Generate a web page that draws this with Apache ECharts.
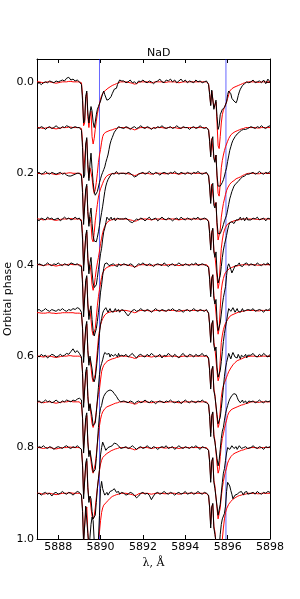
<!DOCTYPE html>
<html><head><meta charset="utf-8">
<script src="https://cdn.jsdelivr.net/npm/echarts@6/dist/echarts.min.js"></script>
<style>html,body{margin:0;padding:0;background:#fff}#c{width:300px;height:599px}</style>
</head><body><div id="c"></div>
<script>
// wavelength grid (Angstrom)
const wavelengths = [
5887.0,5887.1,5887.2,5887.3,5887.4,5887.5,5887.6,5887.7,5887.8,5887.9,5888.0,5888.1,5888.2,5888.3,5888.4,5888.5,5888.6,5888.7,5888.8,5888.9,5889.0,
5889.05,5889.1,5889.15,5889.2,5889.25,5889.3,5889.35,5889.4,5889.45,5889.5,5889.55,5889.6,5889.65,5889.7,5889.75,5889.8,5889.85,5889.9,5889.95,5890.0,
5890.05,5890.1,5890.15,5890.2,5890.25,5890.3,5890.35,5890.4,5890.45,5890.5,5890.55,5890.6,5890.65,5890.7,5890.75,5890.8,5890.85,5890.9,5890.95,5891.0,
5891.1,5891.2,5891.3,5891.4,5891.5,5891.6,5891.7,5891.8,5891.9,5892.0,5892.1,5892.2,5892.3,5892.4,5892.5,5892.6,5892.7,5892.8,5892.9,5893.0,
5893.1,5893.2,5893.3,5893.4,5893.5,5893.6,5893.7,5893.8,5893.9,5894.0,5894.1,5894.2,5894.3,5894.4,5894.5,5894.6,5894.7,5894.8,5894.9,5895.0,
5895.05,5895.1,5895.15,5895.2,5895.25,5895.3,5895.35,5895.4,5895.45,5895.5,5895.55,5895.6,5895.65,5895.7,5895.75,5895.8,5895.85,5895.9,5895.95,5896.0,
5896.05,5896.1,5896.15,5896.2,5896.25,5896.3,5896.35,5896.4,5896.45,5896.5,5896.55,5896.6,5896.65,5896.7,5896.75,5896.8,5896.85,5896.9,5896.95,5897.0,
5897.1,5897.2,5897.3,5897.4,5897.5,5897.6,5897.7,5897.8,5897.9,5898.0];

// orbital phase of each spectrum (vertical offset)
const phases = [0.0,0.1,0.2,0.3,0.4,0.5,0.6,0.7,0.8,0.9];

// Na D rest wavelengths (blue lines)
const naDLines = [5889.95, 5895.92];
const xTicks = [5888,5890,5892,5894,5896,5898];
const yTicks = [0.0,0.2,0.4,0.6,0.8,1.0];

// observed normalized flux (black)
const obs0 = [
0.98,0.99,0.97,0.99,1.00,0.99,1.01,1.00,0.99,1.01,1.00,1.01,1.02,1.01,1.04,1.05,1.02,1.03,1.01,1.02,1.00,
1.01,0.97,0.80,0.55,0.58,0.84,0.90,0.66,0.55,0.66,0.73,0.68,0.56,0.50,0.56,0.64,0.70,0.73,0.74,0.79,
0.78,0.87,0.90,0.86,0.84,0.80,0.79,0.81,0.80,0.84,0.87,0.89,0.92,0.94,0.93,0.97,0.99,1.02,1.00,1.01,
1.01,0.99,1.00,1.02,0.99,1.00,0.98,1.01,1.00,1.02,1.00,0.99,1.01,1.00,0.98,1.00,1.01,1.03,1.00,0.99,
1.02,1.01,1.03,1.00,1.02,0.99,1.01,1.03,1.00,1.02,0.99,1.01,1.00,0.99,1.02,1.00,1.01,0.99,1.00,1.01,
1.01,0.97,0.86,0.74,0.91,0.93,0.70,0.69,0.80,0.62,0.48,0.52,0.64,0.67,0.70,0.71,0.72,0.74,0.78,0.86,
0.90,0.92,0.87,0.82,0.80,0.79,0.78,0.77,0.80,0.85,0.89,0.92,0.94,0.96,0.97,0.98,0.99,1.00,1.02,0.99,
1.00,1.02,0.99,1.00,1.01,0.99,1.02,0.98,1.03,1.00];
const obs1 = [
1.00,0.99,1.01,1.00,0.98,1.00,1.01,0.99,1.00,1.02,1.00,0.99,1.01,1.00,1.02,1.01,0.99,1.00,1.01,1.00,1.00,
1.00,0.97,0.78,0.45,0.48,0.82,0.89,0.60,0.42,0.60,0.72,0.55,0.40,0.30,0.26,0.25,0.30,0.35,0.40,0.44,
0.48,0.51,0.54,0.57,0.62,0.66,0.70,0.76,0.82,0.86,0.89,0.92,0.95,0.97,0.98,0.99,1.01,0.99,1.00,1.01,
0.99,1.01,1.00,0.98,1.00,1.01,0.99,1.00,1.02,1.00,0.99,1.01,1.00,0.98,1.00,0.99,1.01,1.00,1.02,1.00,
0.99,1.00,1.01,0.99,1.00,1.02,1.00,0.99,1.01,1.00,1.00,0.98,1.00,1.01,0.99,1.00,1.02,1.00,0.99,1.00,
1.00,0.97,0.85,0.68,0.86,0.90,0.66,0.62,0.70,0.48,0.36,0.34,0.36,0.38,0.40,0.43,0.47,0.52,0.56,0.63,
0.69,0.75,0.79,0.83,0.86,0.88,0.90,0.92,0.93,0.94,0.95,0.96,0.97,0.975,0.98,0.99,0.98,1.00,0.99,1.01,
1.01,1.00,0.99,1.01,1.00,1.02,1.00,0.99,1.01,1.02];
const obs2 = [
1.00,1.01,0.99,1.00,1.02,1.00,0.99,1.01,1.00,0.99,1.00,1.01,0.99,1.00,0.98,0.97,0.97,0.98,0.99,1.00,1.00,
0.99,0.97,0.79,0.44,0.46,0.83,0.88,0.58,0.42,0.55,0.62,0.45,0.32,0.26,0.24,0.25,0.30,0.36,0.43,0.50,
0.57,0.64,0.72,0.80,0.86,0.90,0.93,0.95,0.97,0.98,1.00,1.01,0.99,1.00,1.02,1.00,0.99,1.01,1.00,0.98,
1.00,0.99,1.01,1.00,0.98,0.96,0.97,0.99,1.00,1.01,0.99,1.00,1.02,1.00,0.99,1.01,1.00,0.98,1.00,1.01,
1.00,0.99,1.01,1.00,1.02,1.00,0.99,1.01,1.00,0.99,1.01,1.00,0.99,1.01,1.00,1.02,1.00,0.99,1.00,1.01,
0.99,0.97,0.85,0.67,0.86,0.89,0.65,0.62,0.68,0.46,0.34,0.32,0.34,0.37,0.40,0.44,0.48,0.51,0.54,0.60,
0.66,0.72,0.76,0.80,0.83,0.86,0.88,0.89,0.90,0.91,0.93,0.94,0.95,0.96,0.97,0.97,0.98,0.99,1.00,0.99,
1.00,1.01,0.99,1.00,1.02,1.00,0.99,1.01,1.00,1.02];
const obs3 = [
1.00,0.98,1.01,1.00,0.99,1.02,1.00,1.01,0.99,1.00,1.01,0.98,1.00,1.02,1.00,1.01,0.99,1.00,1.02,1.00,1.01,
1.01,0.97,0.78,0.43,0.45,0.82,0.88,0.57,0.40,0.52,0.58,0.42,0.30,0.25,0.24,0.28,0.36,0.45,0.53,0.62,
0.68,0.78,0.86,0.90,0.96,1.02,1.01,0.99,1.00,1.02,0.99,1.00,1.01,0.98,1.00,1.01,0.99,1.00,1.02,1.00,
1.00,1.01,0.99,0.97,0.96,0.98,1.00,0.99,1.01,1.00,0.98,1.00,1.02,0.99,1.00,1.01,0.98,1.00,1.02,1.00,
0.99,1.01,1.00,0.98,1.00,1.01,0.99,1.02,1.00,0.99,1.01,1.00,0.99,1.01,1.00,1.02,0.99,1.00,1.01,1.00,
1.01,0.97,0.84,0.66,0.85,0.90,0.64,0.58,0.64,0.42,0.30,0.30,0.38,0.48,0.58,0.66,0.72,0.77,0.82,0.88,
0.93,0.96,0.98,0.97,0.96,0.95,0.97,0.99,1.01,0.99,1.00,1.02,0.99,1.00,1.01,0.98,1.00,1.02,0.99,1.00,
0.99,1.01,1.00,1.02,0.99,1.00,1.01,0.98,1.01,1.00];
const obs4 = [
0.99,1.01,1.00,0.99,1.00,1.02,1.00,0.99,1.01,1.00,1.02,1.00,0.99,1.01,1.00,0.99,1.02,1.01,1.00,1.01,0.99,
0.99,0.98,0.79,0.43,0.45,0.83,0.88,0.56,0.40,0.50,0.55,0.40,0.28,0.22,0.24,0.30,0.38,0.48,0.58,0.70,
0.78,0.88,0.96,1.01,1.03,1.02,1.03,0.99,1.01,1.00,0.98,1.01,1.02,0.99,1.00,0.98,1.01,1.00,0.99,1.01,
1.01,1.00,0.99,1.01,1.00,0.97,0.99,1.01,1.00,1.02,1.00,0.99,1.01,1.00,0.98,1.00,1.01,1.00,0.99,1.02,
1.00,0.98,1.00,1.01,0.99,1.00,1.02,1.00,0.99,1.01,1.00,0.99,1.01,1.00,1.02,0.99,1.00,1.01,1.00,0.99,
0.99,0.97,0.84,0.65,0.85,0.89,0.63,0.57,0.62,0.40,0.28,0.28,0.36,0.46,0.56,0.64,0.70,0.76,0.88,0.98,
1.01,1.00,0.95,0.91,0.92,0.96,0.99,1.01,0.99,1.00,1.02,0.99,1.01,0.98,1.00,1.01,0.99,1.02,1.00,0.99,
1.01,1.00,0.99,1.02,1.00,0.99,1.01,1.00,1.02,0.99];
const obs5 = [
1.00,1.01,0.99,1.00,1.02,1.00,0.99,1.01,1.00,0.99,1.01,1.00,1.02,1.00,0.99,1.01,1.00,1.02,1.01,1.03,1.02,
1.01,0.98,0.80,0.43,0.45,0.82,0.88,0.56,0.40,0.50,0.52,0.36,0.25,0.22,0.26,0.36,0.48,0.62,0.75,0.85,
0.91,0.97,1.00,1.02,1.03,1.01,0.98,1.00,1.02,0.99,1.01,0.98,1.00,1.02,0.99,1.00,1.01,0.98,1.00,1.01,
1.00,0.97,0.94,0.97,1.00,1.01,0.99,1.00,1.02,1.00,0.99,1.01,1.00,0.98,1.00,1.02,1.00,0.99,1.01,1.00,
0.99,1.01,1.00,1.02,1.00,0.99,1.01,1.00,0.98,1.00,1.01,0.99,1.00,1.02,1.00,0.99,1.01,1.00,0.99,1.01,
1.01,0.97,0.84,0.65,0.85,0.89,0.62,0.56,0.60,0.38,0.27,0.27,0.34,0.44,0.55,0.66,0.75,0.82,0.88,0.96,
1.02,1.01,0.99,1.00,1.03,1.01,0.98,1.00,1.02,0.99,1.01,0.98,1.00,1.02,0.99,1.01,1.00,0.98,1.01,1.00,
1.00,1.02,0.99,1.00,1.01,1.00,0.98,1.01,1.00,1.02];
const obs6 = [
1.01,0.99,1.02,1.00,1.01,0.98,1.00,1.02,1.01,0.99,1.00,1.02,1.00,1.01,1.03,1.02,1.05,1.08,1.04,1.06,1.03,
1.02,0.99,0.81,0.44,0.45,0.83,0.88,0.56,0.40,0.48,0.48,0.34,0.24,0.22,0.27,0.38,0.52,0.66,0.80,0.88,
0.92,0.96,1.01,1.04,1.05,1.02,1.00,1.03,0.99,1.02,1.04,1.00,0.98,1.02,1.01,0.99,1.03,1.00,0.98,1.01,
1.00,1.02,0.99,1.01,1.03,1.00,0.98,1.01,1.02,1.00,0.99,1.02,1.00,1.03,1.01,0.99,1.00,1.02,0.98,1.01,
1.00,1.03,1.01,0.99,1.02,1.00,0.98,1.01,1.03,1.00,0.99,1.02,1.01,0.99,1.02,1.00,1.01,1.03,1.00,1.01,
1.02,0.98,0.84,0.64,0.85,0.89,0.62,0.56,0.58,0.36,0.26,0.26,0.33,0.43,0.54,0.66,0.78,0.87,0.93,0.98,
1.03,1.00,0.97,1.01,1.04,1.03,0.99,1.01,0.98,1.02,1.00,0.97,1.01,1.03,0.99,1.00,1.02,0.98,1.01,1.00,
1.01,1.03,1.00,0.99,1.02,1.00,1.03,1.01,0.99,1.02];
const obs7 = [
1.00,1.01,0.99,1.00,1.02,1.00,1.01,0.99,1.00,1.02,1.00,0.99,1.01,1.00,1.02,1.01,1.00,1.02,1.01,1.03,1.04,
1.04,1.02,0.82,0.44,0.45,0.83,0.88,0.56,0.40,0.47,0.45,0.32,0.23,0.21,0.26,0.38,0.55,0.72,0.86,0.93,
0.96,1.02,1.06,1.08,1.10,1.11,1.12,1.13,1.13,1.12,1.12,1.11,1.09,1.08,1.06,1.04,1.02,1.01,1.00,1.01,
1.01,1.00,0.99,1.01,1.00,0.98,1.00,1.01,0.99,1.00,1.02,1.00,0.99,1.01,1.00,0.98,1.00,1.01,1.00,0.99,
1.01,1.00,1.02,1.00,0.99,1.00,1.01,0.98,1.00,1.02,1.00,0.99,1.01,1.00,0.99,1.01,1.00,1.02,1.00,0.99,
1.01,0.97,0.84,0.62,0.85,0.89,0.62,0.56,0.58,0.38,0.30,0.36,0.48,0.60,0.68,0.72,0.80,0.87,0.92,0.96,
1.00,1.03,1.05,1.07,1.08,1.09,1.08,1.08,1.05,1.02,1.01,0.99,1.00,1.02,0.99,1.00,1.01,0.98,1.00,1.01,
1.00,1.01,0.99,1.00,1.02,1.00,0.99,1.01,1.00,1.01];
const obs8 = [
0.99,1.01,1.00,1.02,1.00,0.99,1.01,1.00,0.98,1.00,1.01,1.00,0.99,1.01,1.02,1.00,0.99,1.01,1.00,1.02,1.00,
1.00,0.98,0.80,0.44,0.45,0.83,0.88,0.56,0.40,0.47,0.44,0.30,0.22,0.20,0.26,0.40,0.55,0.66,0.76,0.92,
1.00,1.06,1.04,1.00,0.97,0.98,1.00,0.99,1.01,1.00,1.02,1.04,1.05,1.05,1.04,1.05,1.02,1.00,0.99,1.01,
1.00,1.01,0.99,1.00,1.02,1.00,0.98,1.00,1.01,0.99,1.00,1.02,1.00,0.99,1.01,1.00,0.98,1.00,1.01,1.00,
1.02,0.99,1.00,1.01,0.98,1.00,1.02,1.00,0.99,1.01,1.00,0.99,1.01,1.00,1.02,1.00,0.98,1.01,1.00,0.99,
1.00,0.97,0.84,0.62,0.85,0.89,0.62,0.55,0.56,0.36,0.26,0.28,0.38,0.50,0.62,0.72,0.77,0.86,0.94,1.00,
1.01,0.98,1.00,1.02,1.01,0.99,1.00,1.01,0.98,1.00,1.02,1.00,0.99,1.01,1.00,0.98,1.01,1.02,0.99,1.00,
1.00,1.02,1.00,0.99,1.01,1.00,0.98,1.01,1.00,1.01];
const obs9 = [
0.99,1.00,0.98,1.00,1.01,0.99,1.00,0.97,1.00,1.01,0.99,1.00,1.02,1.00,0.99,1.01,1.00,0.98,1.00,1.02,1.01,
1.01,0.98,0.80,0.44,0.45,0.86,0.88,0.56,0.40,0.52,0.66,0.74,0.70,0.48,0.30,0.25,0.32,0.50,0.76,1.05,
1.13,1.05,1.01,0.98,0.99,1.01,0.98,0.99,1.02,1.00,1.03,1.04,1.05,1.03,1.01,1.00,1.02,0.99,1.00,1.01,
1.00,0.98,0.99,1.01,1.00,0.98,0.95,0.97,1.00,1.01,0.99,1.00,0.98,0.93,0.97,1.00,1.01,0.99,1.00,1.02,
1.00,0.99,1.01,1.00,0.98,1.00,1.01,0.99,1.00,1.02,0.99,1.00,1.01,0.99,1.00,1.02,1.00,0.99,1.01,1.00,
1.01,0.98,0.84,0.62,0.85,0.89,0.62,0.55,0.56,0.38,0.30,0.40,0.55,0.66,0.72,0.74,0.78,0.86,1.02,1.12,
1.10,1.08,1.03,0.99,0.94,0.95,0.98,0.97,0.99,1.00,1.01,0.99,1.02,1.00,0.98,1.01,1.00,1.02,0.99,1.01,
1.00,1.01,0.99,1.02,1.00,0.99,1.01,1.00,1.02,1.01];

// model normalized flux (red): continuum pieces shared, line regions per spectrum
const modelLeft = [1.00,1.00,0.995,0.99,0.995,1.00,1.00,0.995,0.99,0.985,0.99,0.995,1.00,1.00,1.00,1.005,1.005,1.00,1.00,1.00,1.00];
const modelLeftLow = [0.975,0.975,0.97,0.97,0.97,0.975,0.975,0.97,0.97,0.965,0.97,0.97,0.975,0.975,0.975,0.975,0.975,0.975,0.97,0.97,0.97];
const modelMid = [1.00,1.00,0.995,0.99,0.985,0.975,0.98,0.995,1.00,1.00,1.00,1.00,0.995,0.99,0.995,1.00,1.00,1.00,1.00,0.995,
0.995,1.00,1.00,1.00,1.00,0.995,0.99,0.995,1.00,1.00,1.00,1.00,1.00,1.00,1.00,1.00,1.00,1.00,1.00,1.00];
const modelRight = [1.00,1.00,1.00,0.995,0.995,1.00,1.00,1.00,1.00,1.00];

const mod0 = [...modelLeft,
1.00,0.99,0.85,0.52,0.55,0.82,0.88,0.62,0.50,0.62,0.68,0.40,0.32,0.38,0.48,0.57,0.65,0.71,0.76,0.81,
0.85,0.87,0.89,0.90,0.91,0.92,0.93,0.94,0.945,0.95,0.96,0.965,0.97,0.975,0.98,0.985,0.99,0.995,1.00,1.00,
...modelMid,
1.00,0.98,0.88,0.75,0.90,0.92,0.72,0.70,0.78,0.55,0.30,0.27,0.40,0.55,0.64,0.69,0.72,0.75,0.78,0.82,
0.86,0.90,0.915,0.925,0.93,0.94,0.945,0.95,0.955,0.96,0.965,0.97,0.975,0.98,0.985,0.99,0.99,0.995,1.00,1.00,
...modelRight];
const mod1 = [...modelLeft,
1.01,0.99,0.84,0.50,0.50,0.80,0.87,0.58,0.45,0.56,0.58,0.45,0.34,0.28,0.32,0.40,0.50,0.62,0.70,0.76,
0.84,0.90,0.93,0.94,0.95,0.955,0.96,0.965,0.97,0.97,0.975,0.98,0.985,0.99,0.99,0.995,1.00,1.00,1.00,1.00,
...modelMid,
1.00,0.98,0.86,0.70,0.88,0.90,0.68,0.64,0.70,0.45,0.28,0.25,0.38,0.56,0.64,0.70,0.75,0.79,0.82,0.85,
0.88,0.90,0.92,0.93,0.94,0.95,0.955,0.96,0.965,0.97,0.975,0.98,0.985,0.99,0.99,0.995,1.00,1.00,1.00,1.00,
...modelRight];
const mod2 = [...modelLeft,
1.00,0.99,0.84,0.50,0.50,0.80,0.86,0.58,0.45,0.52,0.45,0.28,0.25,0.35,0.48,0.57,0.66,0.74,0.79,0.83,
0.86,0.89,0.92,0.94,0.96,0.97,0.98,0.985,0.99,0.99,0.995,0.995,1.00,1.00,1.00,1.00,1.00,1.00,1.00,1.00,
...modelMid,
1.00,0.98,0.86,0.70,0.88,0.90,0.68,0.64,0.68,0.42,0.27,0.26,0.38,0.52,0.60,0.67,0.72,0.77,0.81,0.84,
0.86,0.88,0.895,0.905,0.91,0.92,0.93,0.94,0.945,0.95,0.955,0.96,0.97,0.975,0.98,0.985,0.99,0.995,1.00,1.00,
...modelRight];
const mod3 = [...modelLeft,
1.00,0.99,0.84,0.50,0.50,0.80,0.86,0.58,0.44,0.50,0.42,0.28,0.22,0.27,0.36,0.45,0.52,0.58,0.65,0.73,
0.79,0.85,0.89,0.92,0.94,0.96,0.97,0.98,0.985,0.99,0.99,0.995,0.995,1.00,1.00,1.00,1.00,1.00,1.00,1.00,
...modelMid,
1.00,0.98,0.86,0.68,0.86,0.89,0.66,0.60,0.62,0.36,0.24,0.30,0.50,0.68,0.77,0.84,0.88,0.91,0.93,0.945,
0.95,0.96,0.965,0.97,0.975,0.98,0.98,0.985,0.99,0.99,0.99,0.995,0.995,1.00,1.00,1.00,1.00,1.00,1.00,1.00,
...modelRight];
const mod4 = [...modelLeft,
1.00,0.99,0.84,0.50,0.50,0.80,0.86,0.58,0.44,0.50,0.40,0.28,0.23,0.22,0.30,0.42,0.55,0.65,0.73,0.80,
0.86,0.91,0.93,0.95,0.96,0.97,0.975,0.98,0.985,0.99,0.99,0.99,0.995,0.995,1.00,1.00,1.00,1.00,1.00,1.00,
...modelMid,
1.00,0.98,0.86,0.68,0.86,0.89,0.66,0.60,0.60,0.34,0.24,0.30,0.52,0.72,0.80,0.85,0.89,0.915,0.93,0.94,
0.95,0.96,0.965,0.97,0.975,0.98,0.98,0.985,0.99,0.99,0.99,0.995,0.995,1.00,1.00,1.00,1.00,1.00,1.00,1.00,
...modelRight];
const mod5 = [...modelLeftLow,
0.97,0.96,0.82,0.49,0.50,0.79,0.85,0.57,0.43,0.48,0.38,0.27,0.22,0.22,0.30,0.42,0.56,0.70,0.78,0.84,
0.88,0.91,0.93,0.95,0.96,0.97,0.975,0.98,0.98,0.985,0.985,0.99,0.99,0.99,0.995,0.995,1.00,1.00,1.00,1.00,
...modelMid,
0.99,0.97,0.85,0.67,0.85,0.88,0.65,0.59,0.58,0.33,0.23,0.27,0.45,0.65,0.73,0.79,0.83,0.86,0.88,0.90,
0.92,0.935,0.945,0.95,0.955,0.96,0.965,0.97,0.975,0.98,0.98,0.985,0.99,0.99,0.99,0.995,0.995,1.00,1.00,1.00,
...modelRight];
const mod6 = [...modelLeft,
0.99,0.98,0.83,0.49,0.50,0.79,0.85,0.57,0.43,0.47,0.36,0.26,0.22,0.23,0.30,0.40,0.50,0.58,0.64,0.74,
0.83,0.87,0.90,0.92,0.93,0.94,0.95,0.955,0.96,0.965,0.97,0.97,0.975,0.98,0.985,0.99,0.99,0.995,1.00,1.00,
...modelMid,
0.99,0.97,0.85,0.66,0.85,0.88,0.64,0.58,0.56,0.32,0.22,0.26,0.40,0.55,0.63,0.68,0.71,0.74,0.77,0.80,
0.83,0.85,0.87,0.89,0.905,0.92,0.93,0.94,0.95,0.955,0.96,0.965,0.97,0.975,0.98,0.985,0.99,0.99,0.995,1.00,
...modelRight];
const mod7 = [...modelLeft,
0.98,0.97,0.83,0.49,0.50,0.79,0.85,0.57,0.43,0.46,0.35,0.26,0.22,0.24,0.32,0.42,0.54,0.65,0.74,0.81,
0.86,0.89,0.91,0.925,0.935,0.945,0.95,0.955,0.96,0.965,0.97,0.975,0.98,0.985,0.99,0.99,0.995,1.00,1.00,1.00,
...modelMid,
0.99,0.97,0.85,0.66,0.85,0.88,0.64,0.58,0.56,0.32,0.22,0.26,0.40,0.52,0.60,0.65,0.71,0.76,0.80,0.85,
0.88,0.90,0.91,0.92,0.925,0.93,0.935,0.94,0.945,0.95,0.955,0.96,0.965,0.97,0.97,0.975,0.98,0.98,0.985,0.99,
...modelRight];
const mod8 = [...modelLeft,
0.99,0.98,0.83,0.49,0.50,0.79,0.85,0.57,0.43,0.46,0.34,0.25,0.22,0.25,0.34,0.45,0.56,0.65,0.75,0.82,
0.86,0.89,0.905,0.915,0.925,0.935,0.945,0.95,0.96,0.965,0.97,0.975,0.98,0.985,0.99,0.99,0.995,1.00,1.00,1.00,
...modelMid,
0.99,0.97,0.85,0.66,0.85,0.88,0.64,0.58,0.56,0.33,0.22,0.24,0.34,0.46,0.56,0.63,0.69,0.74,0.78,0.83,
0.86,0.88,0.90,0.915,0.925,0.935,0.94,0.945,0.95,0.955,0.96,0.965,0.97,0.97,0.975,0.98,0.985,0.99,0.99,0.995,
...modelRight];
const mod9 = [...modelLeft,
0.99,0.98,0.83,0.49,0.50,0.79,0.85,0.57,0.43,0.45,0.36,0.28,0.24,0.24,0.28,0.34,0.42,0.50,0.58,0.70,
0.79,0.84,0.87,0.885,0.895,0.91,0.92,0.935,0.945,0.955,0.965,0.97,0.975,0.98,0.985,0.99,0.99,0.995,1.00,1.00,
...modelMid,
0.99,0.97,0.85,0.66,0.85,0.88,0.64,0.58,0.56,0.34,0.23,0.22,0.28,0.38,0.50,0.62,0.72,0.79,0.83,0.85,
0.88,0.90,0.91,0.92,0.935,0.945,0.95,0.96,0.965,0.97,0.975,0.98,0.98,0.985,0.99,0.99,0.99,0.995,1.00,1.00,
...modelRight];

const obsSpectra = [obs0,obs1,obs2,obs3,obs4,obs5,obs6,obs7,obs8,obs9];
const modSpectra = [mod0,mod1,mod2,mod3,mod4,mod5,mod6,mod7,mod8,mod9];
const depthScale = 0.2;   // phase units per unit of flux depth
const yMin = -0.05, yMax = 1.0;

[...obsSpectra, ...modSpectra].forEach((a, i) => {
  if (a.length !== wavelengths.length) throw new Error('length mismatch in spectrum ' + i + ': ' + a.length);
});

function toPoints(flux, phase) {
  return wavelengths.map((w, i) => [w, phase + (1 - flux[i]) * depthScale]);
}

const series = [];
naDLines.forEach(w => series.push({
  type: 'line', data: [[w, yMin], [w, yMax]], showSymbol: false, silent: true, z: 1,
  lineStyle: { color: 'rgba(0,0,255,0.6)', width: 1 }
}));
phases.forEach((p, k) => {
  series.push({ type: 'line', data: toPoints(modSpectra[k], p), showSymbol: false, z: 2,
    lineStyle: { color: '#ff0000', width: 1 } });
  series.push({ type: 'line', data: toPoints(obsSpectra[k], p), showSymbol: false, z: 3,
    lineStyle: { color: '#000000', width: 1 } });
});

const axisLine = { show: true, onZero: false, lineStyle: { color: '#000', width: 1 } };
const labelFont = { fontSize: 11, color: '#000', fontFamily: 'DejaVu Sans' };

const chart = echarts.init(document.getElementById('c'), null, { renderer: 'canvas' });
chart.setOption({
  animation: false,
  backgroundColor: '#fff',
  title: { text: 'NaD', left: 142, top: 43,
    textStyle: { fontSize: 11, fontWeight: 'normal', color: '#000', fontFamily: 'DejaVu Sans' } },
  grid: { left: 37, right: 30, top: 59, bottom: 60, containLabel: false, outerBoundsMode: 'none' },
  xAxis: [{
    type: 'value', min: 5887, max: 5898, position: 'bottom',
    axisLine: axisLine,
    axisTick: { show: true, inside: true, length: 4, customValues: xTicks, lineStyle: { color: '#000' } },
    axisLabel: Object.assign({ show: true, customValues: xTicks, margin: 3, formatter: v => String(v) }, labelFont),
    splitLine: { show: false },
    name: 'λ, Å', nameLocation: 'middle', nameGap: 18,
    nameTextStyle: { fontSize: 11, color: '#000', fontFamily: 'DejaVu Serif' }
  }, {
    type: 'value', min: 5887, max: 5898, position: 'top',
    axisLine: axisLine,
    axisTick: { show: true, inside: true, length: 4, customValues: xTicks, lineStyle: { color: '#000' } },
    axisLabel: { show: false }, splitLine: { show: false }
  }],
  yAxis: [{
    type: 'value', inverse: true, min: yMin, max: yMax, position: 'left',
    axisLine: axisLine,
    axisTick: { show: true, inside: true, length: 4, customValues: yTicks, lineStyle: { color: '#000' } },
    axisLabel: Object.assign({ show: true, customValues: yTicks, margin: 3, formatter: v => Number(v).toFixed(1) }, labelFont),
    splitLine: { show: false },
    name: 'Orbital phase', nameLocation: 'middle', nameGap: 23, nameRotate: 90, nameMoveOverlap: false,
    nameTextStyle: { fontSize: 11, color: '#000', fontFamily: 'DejaVu Sans' }
  }, {
    type: 'value', inverse: true, min: yMin, max: yMax, position: 'right',
    axisLine: axisLine,
    axisTick: { show: true, inside: true, length: 4, customValues: yTicks, lineStyle: { color: '#000' } },
    axisLabel: { show: false }, splitLine: { show: false }
  }],
  series: series
});
</script>
</body></html>
